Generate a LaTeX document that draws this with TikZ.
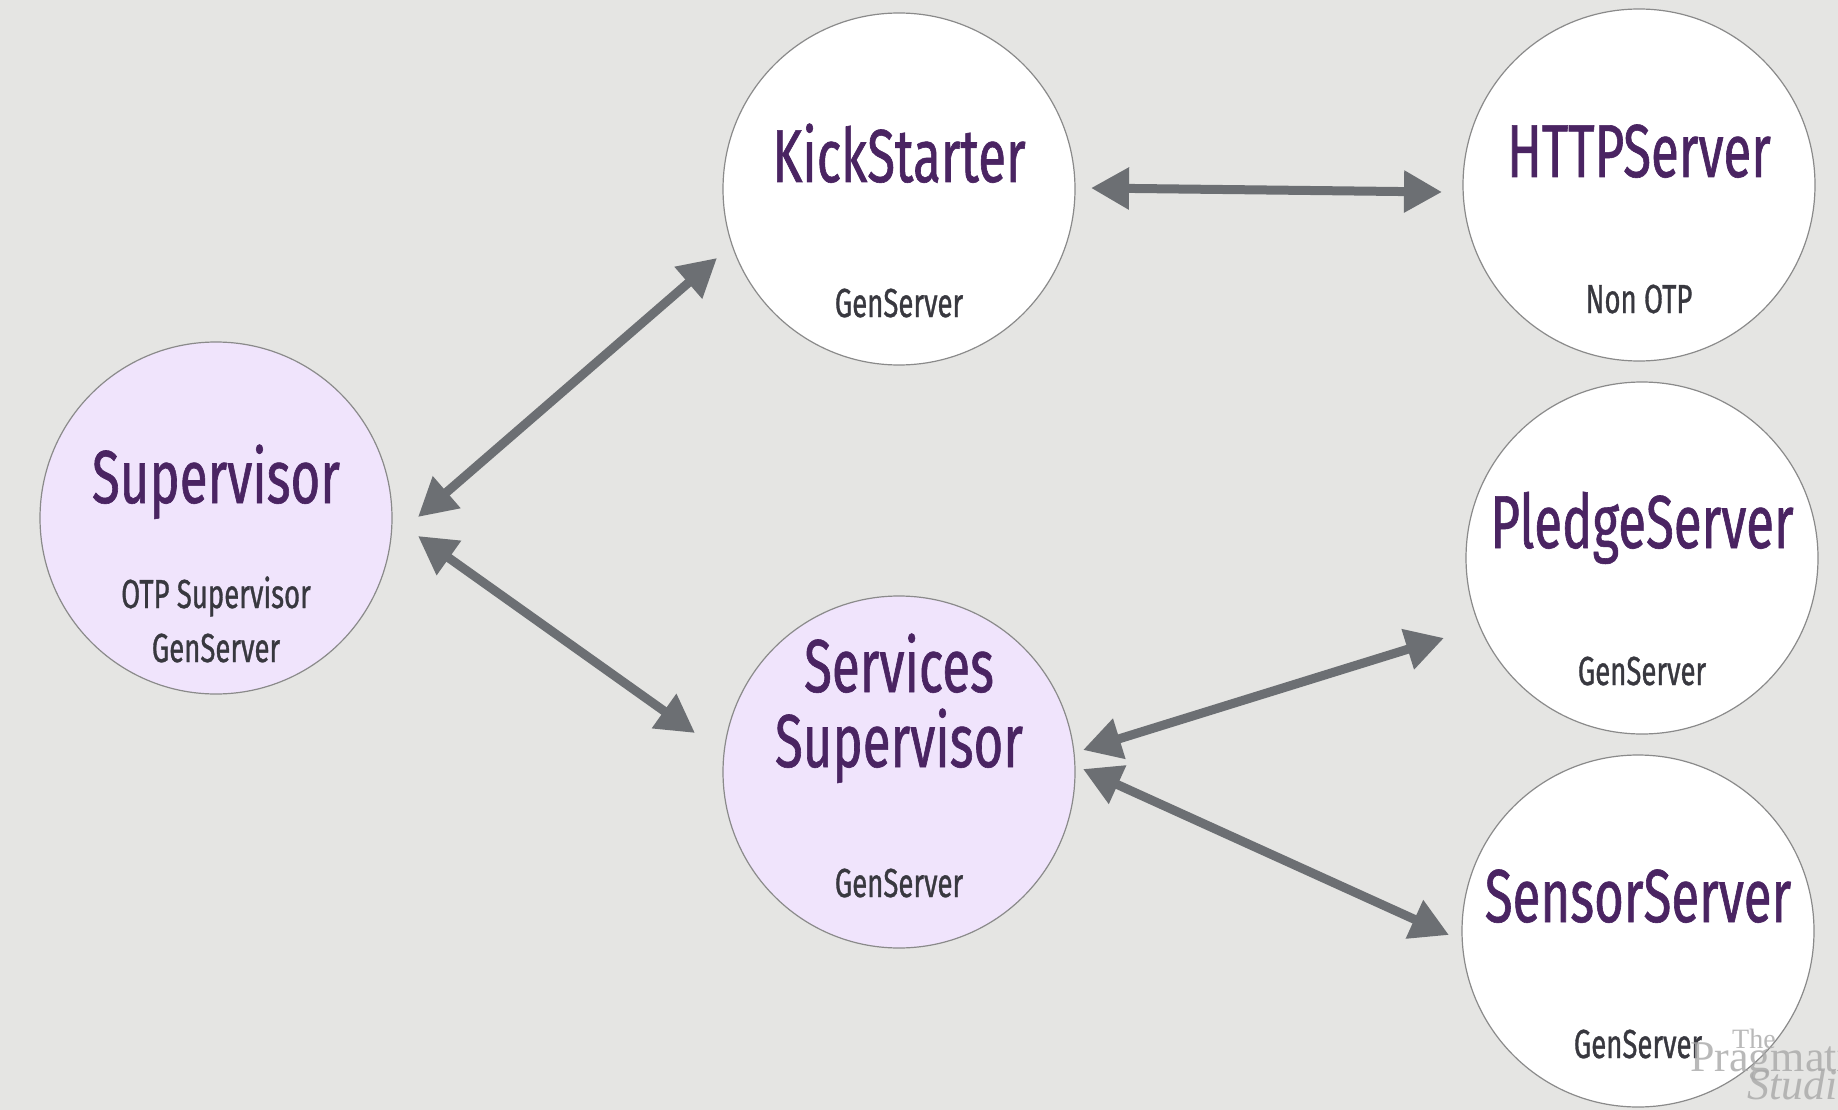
\documentclass[tikz,border=0pt]{standalone}
\usepackage{fontspec}
\setmainfont{Fira Sans}[FakeStretch=0.68,FakeBold=0.8]
\newfontfamily\subfont{Fira Sans}[FakeStretch=0.68,FakeBold=0.8]
\newfontfamily\wmfont{Liberation Serif}
\usetikzlibrary{arrows.meta,calc}
\definecolor{bgc}{HTML}{E5E5E3}
\definecolor{lav}{HTML}{F0E4FC}
\definecolor{ttlc}{HTML}{4A2462}
\definecolor{subc}{HTML}{38383F}
\definecolor{arrc}{HTML}{6C6F73}
\definecolor{edgec}{HTML}{8A8A8A}
\definecolor{wmc}{HTML}{A8A8A8}
\begin{document}
\begin{tikzpicture}[x=1pt,y=-1pt,
  proc/.style={circle,draw=edgec,line width=1.2pt,minimum size=352pt,inner sep=0pt},
  supproc/.style={proc,fill=lav},
  wrkproc/.style={proc,fill=white},
  ttl/.style={anchor=base,inner sep=0pt,text=ttlc,font=\fontsize{75}{80}\selectfont},
  sub/.style={anchor=base,inner sep=0pt,text=subc,font=\subfont\fontsize{40.5}{44}\selectfont},
  link/.style={draw=arrc,line width=9pt,{Triangle[length=38pt,width=40pt]}-{Triangle[length=38pt,width=40pt]}},
  wm/.style={anchor=base west,inner sep=0pt,text=wmc,opacity=0.8}]
\useasboundingbox (0,0) rectangle (1838,1110);
\clip (0,0) rectangle (1838,1110);
\fill[bgc] (0,0) rectangle (1838,1110);

% circles
\node[supproc] (sup) at (216,518) {};
\node[wrkproc] (ks) at (899,189) {};
\node[wrkproc] (http) at (1639,185) {};
\node[supproc] (svc) at (899,772) {};
\node[wrkproc] (pledge) at (1642,558) {};
\node[wrkproc] (sensor) at (1638,931) {};

% texts
\node[ttl] (supT) at ($(sup.center)+(0,-15)$) {Supervisor};
\node[sub] (supS1) at ($(sup.center)+(0,90)$) {OTP Supervisor};
\node[sub] (supS2) at ($(sup.center)+(0,144)$) {GenServer};

\node[ttl] (ksT) at ($(ks.center)+(0,-7)$) {KickStarter};
\node[sub] (ksS) at ($(ks.center)+(0,128)$) {GenServer};

\node[ttl] (httpT) at ($(http.center)+(0,-8)$) {HTTPServer};
\node[sub] (httpS) at ($(http.center)+(0,128)$) {Non OTP};

\node[ttl] (svcT1) at ($(svc.center)+(0,-80)$) {Services};
\node[ttl] (svcT2) at ($(svc.center)+(0,-5)$) {Supervisor};
\node[sub] (svcS) at ($(svc.center)+(0,125)$) {GenServer};

\node[ttl] (pledgeT) at ($(pledge.center)+(0,-10)$) {PledgeServer};
\node[sub] (pledgeS) at ($(pledge.center)+(0,127)$) {GenServer};

\node[ttl] (sensorT) at ($(sensor.center)+(0,-9)$) {SensorServer};
\node[sub] (sensorS) at ($(sensor.center)+(0,127)$) {GenServer};

% connector end points
\coordinate (supA) at ($(sup.center)+(202,-1)$);
\coordinate (supB) at ($(sup.center)+(202,18)$);
\coordinate (ksA) at ($(ks.center)+(-182,69)$);
\coordinate (ksB) at ($(ks.center)+(192,-1)$);
\coordinate (httpA) at ($(http.center)+(-197,7)$);
\coordinate (svcA) at ($(svc.center)+(-204,-39)$);
\coordinate (svcB) at ($(svc.center)+(184,-22)$);
\coordinate (svcC) at ($(svc.center)+(184,-3)$);
\coordinate (pledgeA) at ($(pledge.center)+(-198,80)$);
\coordinate (sensorA) at ($(sensor.center)+(-189,4)$);

\draw[link] (supA) -- (ksA);
\draw[link] (supB) -- (svcA);
\draw[link] (ksB) -- (httpA);
\draw[link] (svcB) -- (pledgeA);
\draw[link] (svcC) -- (sensorA);

% watermark
\node[wm,font=\wmfont\fontsize{28}{30}\selectfont] (wm1) at (1732,1048) {The};
\node[wm,font=\wmfont\fontsize{44}{46}\selectfont] (wm2) at (1690,1071) {Pragmatic};
\node[wm,font=\wmfont\itshape\fontsize{44}{46}\selectfont] (wm3) at (1747,1099) {Studio};
\end{tikzpicture}
\end{document}
